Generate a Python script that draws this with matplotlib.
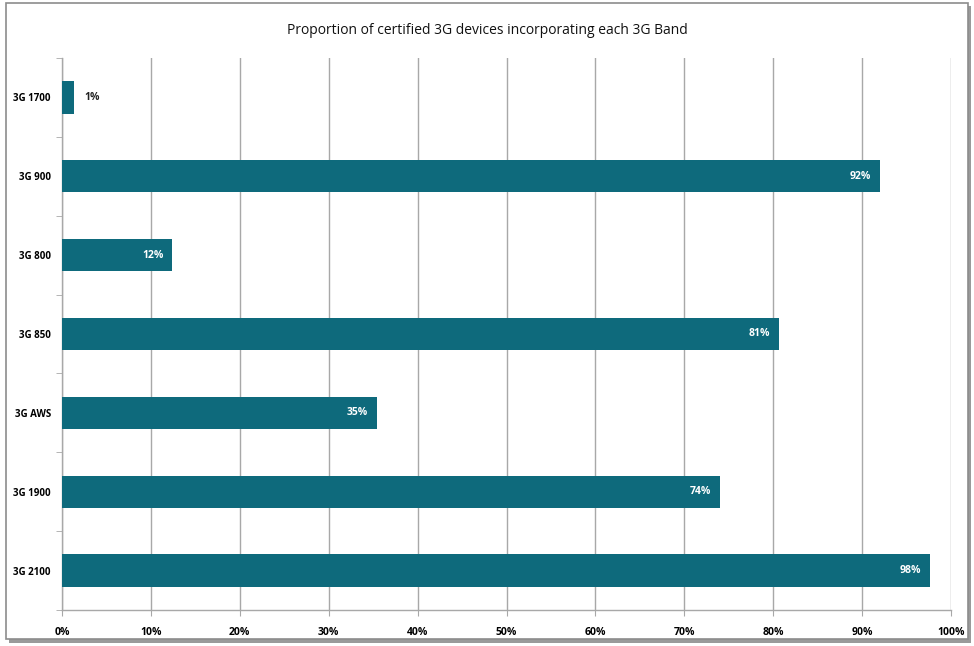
import matplotlib
matplotlib.use("Agg")
import matplotlib.pyplot as plt
from matplotlib.patches import Rectangle

# data, top to bottom as shown
bands = ["3G 1700", "3G 900", "3G 800", "3G 850", "3G AWS", "3G 1900", "3G 2100"]
values = [1.4, 92.0, 12.4, 80.7, 35.4, 74.0, 97.6]
labels = ["1%", "92%", "12%", "81%", "35%", "74%", "98%"]
xticks = list(range(0, 101, 10))

BAR = "#0e6a7c"
GRID = "#a8a8a8"
plt.rcParams["font.family"] = ["Open Sans", "DejaVu Sans"]

fig = plt.figure(figsize=(9.74, 6.46), dpi=100)

# framed panel with a soft shadow
fig.patches.append(Rectangle((0.009, 0.005), 0.988, 0.985, transform=fig.transFigure,
                             facecolor="#9a9a9a", edgecolor="none", zorder=0))
fig.patches.append(Rectangle((0.006, 0.011), 0.988, 0.984, transform=fig.transFigure,
                             facecolor="white", edgecolor="#8c8c8c", linewidth=1.2, zorder=1))

ax = fig.add_axes([62 / 974, 1 - 610 / 646, (951 - 62) / 974, (610 - 58) / 646])
ax.set_facecolor("none")
ax.set_zorder(2)

ypos = list(range(len(bands)))[::-1]
ax.barh(ypos, values, height=0.41, color=BAR, zorder=3)

for y, v, lab in zip(ypos, values, labels):
    if v < 5:
        ax.text(v + 1.1, y, lab, va="center", ha="left", fontsize=7.5,
                fontweight="bold", color="#222222", zorder=4)
    else:
        ax.text(v - 1.0, y, lab, va="center", ha="right", fontsize=7.5,
                fontweight="bold", color="white", zorder=4)

ax.set_xlim(0, 100)
ax.set_ylim(-0.5, len(bands) - 0.5)
ax.set_xticks(xticks)
ax.set_xticklabels([f"{t}%" for t in xticks], fontsize=7.5, fontweight="bold")
ax.set_yticks(ypos)
ax.set_yticklabels(bands, fontsize=7, fontweight="bold")
ax.set_yticks([i + 0.5 for i in range(-1, len(bands))], minor=True)
ax.tick_params(axis="y", which="major", length=0, pad=8)
ax.tick_params(axis="y", which="minor", length=4, color=GRID)
ax.tick_params(axis="x", length=4, color=GRID, pad=8)

ax.grid(axis="x", color=GRID, linewidth=1.0, zorder=1)
for s in ["top", "right"]:
    ax.spines[s].set_visible(False)
for s in ["left", "bottom"]:
    ax.spines[s].set_color(GRID)
    ax.spines[s].set_linewidth(1.0)

fig.text(0.5, 1 - 30 / 646, "Proportion of certified 3G devices incorporating each 3G Band",
         ha="center", va="center", fontsize=10, color="#111111")

fig.savefig("out.png", dpi=100)
